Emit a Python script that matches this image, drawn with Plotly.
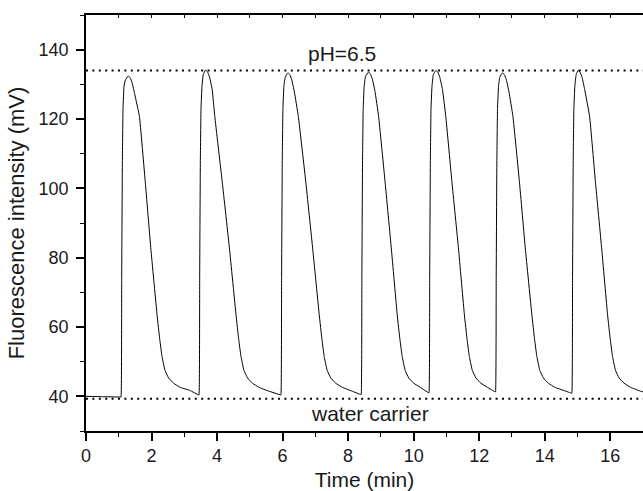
import plotly.graph_objects as go

# Time (min) and fluorescence intensity (mV)
time_min = [
    0.00, 0.50, 1.06,
    # peak 1
    1.07, 1.09, 1.11, 1.13, 1.16, 1.20, 1.29, 1.35, 1.41, 1.49, 1.63, 1.81, 1.98, 2.17,
    2.25, 2.32, 2.41, 2.52, 2.67, 2.87, 3.17, 3.44,
    # peak 2
    3.45, 3.47, 3.49, 3.51, 3.54, 3.58, 3.65, 3.71, 3.77, 3.85, 3.93, 4.16, 4.38, 4.58,
    4.66, 4.73, 4.82, 4.93, 5.08, 5.28, 5.58, 5.94,
    # peak 3
    5.95, 5.97, 5.99, 6.01, 6.04, 6.08, 6.16, 6.22, 6.28, 6.36, 6.48, 6.71, 6.92, 7.12,
    7.20, 7.27, 7.36, 7.47, 7.62, 7.82, 8.12, 8.39,
    # peak 4
    8.40, 8.42, 8.44, 8.46, 8.49, 8.53, 8.62, 8.68, 8.74, 8.82, 8.93, 9.13, 9.32, 9.50,
    9.58, 9.65, 9.74, 9.85, 10.00, 10.20, 10.46,
    # peak 5
    10.47, 10.49, 10.51, 10.53, 10.56, 10.60, 10.68, 10.74, 10.80, 10.88, 10.98, 11.17, 11.37, 11.55,
    11.63, 11.70, 11.79, 11.90, 12.05, 12.25, 12.49,
    # peak 6
    12.50, 12.52, 12.54, 12.56, 12.59, 12.63, 12.71, 12.77, 12.83, 12.91, 13.03, 13.23, 13.41, 13.61,
    13.69, 13.76, 13.85, 13.96, 14.11, 14.31, 14.61, 14.82,
    # peak 7
    14.83, 14.85, 14.87, 14.89, 14.92, 14.96, 15.02, 15.08, 15.14, 15.22, 15.37, 15.55, 15.74, 15.92,
    16.00, 16.07, 16.16, 16.27, 16.42, 16.62, 16.92, 17.00,
]
intensity_mv = [
    40.0, 39.9, 39.8,
    # peak 1
    39.8, 75, 108, 123, 129.5, 131.2, 132.4, 131.9, 130.4, 127.0, 120.8, 101.7, 82.5, 63.4,
    56.5, 51.5, 47.5, 45.3, 43.8, 42.6, 41.7, 40.4,
    # peak 2
    40.4, 75, 108, 123, 129.5, 132.9, 134.1, 133.6, 132.1, 128.6, 120.8, 101.7, 82.5, 63.4,
    56.5, 51.5, 47.5, 45.3, 43.8, 42.6, 41.5, 40.4,
    # peak 3
    40.4, 75, 108, 123, 129.5, 132.1, 133.3, 132.8, 131.3, 127.8, 120.8, 101.7, 82.5, 63.4,
    56.5, 51.5, 47.5, 45.3, 43.8, 42.6, 41.5, 40.5,
    # peak 4
    40.5, 75, 108, 123, 129.5, 132.3, 133.5, 133.0, 131.5, 128.0, 120.8, 101.7, 82.5, 63.4,
    56.5, 51.5, 47.5, 45.3, 43.8, 42.6, 41.0,
    # peak 5
    41.0, 75, 108, 123, 129.5, 132.8, 134.0, 133.5, 132.0, 128.5, 120.8, 101.7, 82.5, 63.4,
    56.5, 51.5, 47.5, 45.3, 43.8, 42.6, 41.3,
    # peak 6
    41.3, 75, 108, 123, 129.5, 132.1, 133.3, 132.8, 131.3, 127.8, 120.8, 101.7, 82.5, 63.4,
    56.5, 51.5, 47.5, 45.3, 43.8, 42.6, 41.6, 40.9,
    # peak 7
    40.9, 75, 108, 123, 129.5, 132.8, 134.0, 133.5, 132.0, 128.5, 120.8, 101.7, 82.5, 63.4,
    56.5, 51.5, 47.5, 45.3, 43.8, 42.6, 41.5, 41.3,
]

ph_level = 134.0
water_level = 39.3
x_range = [0, 17]
y_range = [30, 150]
x_ticks = [0, 2, 4, 6, 8, 10, 12, 14, 16]
y_ticks = [40, 60, 80, 100, 120, 140]
ph_label = "pH=6.5"
water_label = "water carrier"

FONT = "Liberation Sans, Arial, Helvetica, sans-serif"
TXT = "#1a1a1a"

fig = go.Figure()
fig.add_trace(go.Scatter(
    x=time_min, y=intensity_mv, mode="lines",
    line=dict(color="black", width=1, shape="spline", smoothing=0.3),
    showlegend=False, hoverinfo="skip",
))

for lvl in (ph_level, water_level):
    fig.add_shape(type="line", xref="x", yref="y",
                  x0=x_range[0], x1=x_range[1], y0=lvl, y1=lvl,
                  line=dict(color="black", width=2, dash="2px,4.4px"))

fig.add_annotation(x=7.8, y=138.9, text=ph_label, showarrow=False,
                   font=dict(size=21, color=TXT, family=FONT))
fig.add_annotation(x=8.66, y=35.0, text=water_label, showarrow=False,
                   font=dict(size=21, color=TXT, family=FONT))

axis_common = dict(
    showline=True, linecolor="black", linewidth=1.6,
    ticks="outside", ticklen=8, tickwidth=1.5, tickcolor="black",
    showgrid=False, zeroline=False, automargin=False,
    tickfont=dict(size=18, color=TXT, family=FONT),
)

fig.update_xaxes(
    range=x_range, tickvals=x_ticks, mirror=True,
    title=dict(text="Time (min)", font=dict(size=21, color=TXT, family=FONT), standoff=10),
    minor=dict(ticks="outside", ticklen=4, tickwidth=1.3, tickcolor="black", tick0=1, dtick=2),
    **axis_common,
)
fig.update_yaxes(
    range=y_range, tickvals=y_ticks, mirror=False,
    title=dict(text="Fluorescence intensity (mV)", font=dict(size=22, color=TXT, family=FONT), standoff=8),
    minor=dict(ticks="outside", ticklen=4, tickwidth=1.3, tickcolor="black", tick0=30, dtick=10),
    ticklabelstandoff=4,
    **axis_common,
)

# short inward ticks on the top frame line
fig.update_layout(
    xaxis2=dict(
        overlaying="x", side="top", range=x_range, matches="x",
        showline=False, showgrid=False, zeroline=False,
        ticks="inside", ticklen=3, tickwidth=1, tickcolor="black",
        tick0=0, dtick=1, showticklabels=False,
    )
)
fig.add_trace(go.Scatter(x=[None], y=[None], xaxis="x2", yaxis="y",
                         showlegend=False, hoverinfo="skip"))

fig.update_layout(
    width=643, height=491,
    margin=dict(l=86, r=0, t=15, b=60),
    plot_bgcolor="white", paper_bgcolor="white",
    font=dict(family=FONT, color="black"),
)

fig.write_html("out.html", config={"displayModeBar": False},
               post_script="document.body.style.margin='0';document.body.style.overflow='hidden';")
